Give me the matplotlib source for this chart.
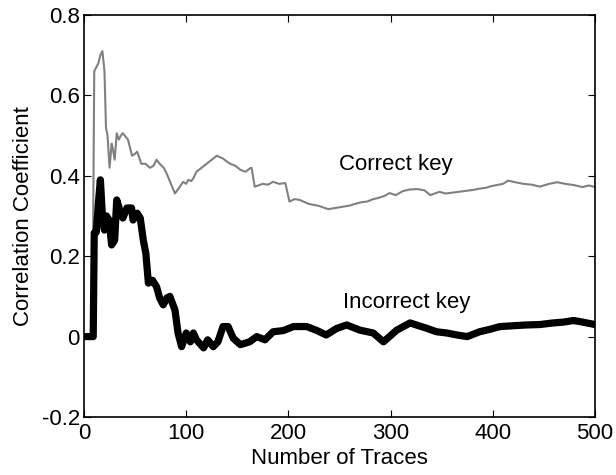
import matplotlib
matplotlib.use("Agg")
import matplotlib.pyplot as plt

plt.rcParams["font.family"] = ["Liberation Sans", "DejaVu Sans"]

# correct key (gray) trace
correct_n = [0, 8, 9, 10, 12, 14, 16, 18, 20, 21.5, 23, 25, 27, 28, 30, 32, 34, 36, 38, 43, 47,
             50, 52, 56, 60, 64.5, 68, 71, 74, 78, 81, 85, 89, 93, 97, 100, 102, 105, 107,
             110, 115, 120, 125, 130, 136, 140, 143, 148, 153, 158, 162, 164, 167, 175,
             180, 185, 191, 197, 201, 206, 211, 220, 230, 239, 246, 253, 260, 265, 271,
             277, 283, 288, 294, 299, 305, 312, 319, 326, 333, 339, 344, 348, 354, 360,
             366, 372, 381, 387, 393, 398, 404, 410, 415, 422, 430, 438, 446, 455, 463,
             471, 479, 488, 494, 500]
correct_r = [0, 0, 0.3, 0.66, 0.67, 0.68, 0.70, 0.71, 0.66, 0.52, 0.50, 0.42, 0.48, 0.47, 0.44,
             0.506, 0.49, 0.50, 0.506, 0.49, 0.45, 0.455, 0.46, 0.43, 0.43, 0.42, 0.425,
             0.44, 0.43, 0.42, 0.405, 0.38, 0.356, 0.37, 0.385, 0.38, 0.39, 0.387, 0.394,
             0.41, 0.42, 0.43, 0.44, 0.45, 0.443, 0.435, 0.43, 0.425, 0.415, 0.41, 0.418,
             0.42, 0.373, 0.38, 0.378, 0.385, 0.38, 0.382, 0.336, 0.342, 0.34, 0.33,
             0.325, 0.317, 0.32, 0.323, 0.326, 0.33, 0.334, 0.336, 0.342, 0.345, 0.35,
             0.357, 0.352, 0.362, 0.366, 0.367, 0.364, 0.352, 0.357, 0.36, 0.356, 0.358,
             0.36, 0.362, 0.365, 0.368, 0.37, 0.374, 0.377, 0.38, 0.388, 0.384, 0.38,
             0.378, 0.373, 0.38, 0.384, 0.38, 0.377, 0.372, 0.376, 0.372]

# incorrect key (black) trace
incorrect_n = [0, 9, 10, 12, 14, 16, 18, 20, 22, 24.5, 27, 30, 32, 35, 38, 42, 46.5, 48, 52,
               55, 58, 60.5, 63, 67, 71, 74, 77.5, 81, 84, 89, 92, 95.5, 100, 104, 107,
               110, 117, 121, 126.5, 131, 136, 141, 146, 153, 162, 169, 177, 185, 195,
               205, 218, 228, 237, 247, 257, 270, 283, 293, 306, 319, 335, 345, 355, 365,
               375, 387, 397, 407, 420, 433, 446, 459, 469, 479, 486, 492, 500]
incorrect_r = [0, 0, 0.258, 0.26, 0.33, 0.39, 0.30, 0.265, 0.30, 0.29, 0.228, 0.24, 0.34,
               0.315, 0.295, 0.32, 0.32, 0.29, 0.307, 0.295, 0.24, 0.207, 0.133, 0.14,
               0.124, 0.096, 0.079, 0.096, 0.10, 0.066, 0.009, -0.025, 0.009, -0.013,
               0.009, -0.008, -0.028, -0.008, -0.025, -0.013, 0.025, 0.025, -0.004, -0.02,
               -0.013, 0.0, -0.008, 0.012, 0.015, 0.025, 0.025, 0.015, 0.004, 0.02, 0.029,
               0.016, 0.009, -0.013, 0.016, 0.034, 0.021, 0.012, 0.009, 0.004, 0.0,
               0.012, 0.018, 0.025, 0.027, 0.029, 0.03, 0.034, 0.036, 0.04, 0.037, 0.034,
               0.03]

fig = plt.figure(figsize=(6.16, 4.75), dpi=100)
ax = fig.add_axes([0.1364, 0.1221, 0.8295, 0.8463])

ax.plot(correct_n, correct_r, color="#808080", lw=1.5)
ax.plot(incorrect_n, incorrect_r, color="black", lw=5.2, solid_joinstyle="round",
        solid_capstyle="round")

ax.text(305, 0.427, "Correct key", fontsize=16, ha="center", va="center")
ax.text(316, 0.084, "Incorrect key", fontsize=16, ha="center", va="center")

ax.set_xlim(0, 500)
ax.set_ylim(-0.2, 0.8)
ax.set_xticks([0, 100, 200, 300, 400, 500])
ax.set_yticks([-0.2, 0, 0.2, 0.4, 0.6, 0.8])
ax.set_yticklabels(["-0.2", "0", "0.2", "0.4", "0.6", "0.8"])
ax.tick_params(direction="in", top=True, right=True, length=5, labelsize=16)
ax.tick_params(axis="x", pad=4)
ax.tick_params(axis="y", pad=3)
ax.set_xlabel("Number of Traces", fontsize=16)
ax.set_ylabel("Correlation Coefficient", fontsize=16)
ax.xaxis.set_label_coords(0.5, -0.076)
ax.yaxis.set_label_coords(-0.098, 0.5)
for s in ax.spines.values():
    s.set_linewidth(1.2)

fig.savefig("out.png", dpi=100)
